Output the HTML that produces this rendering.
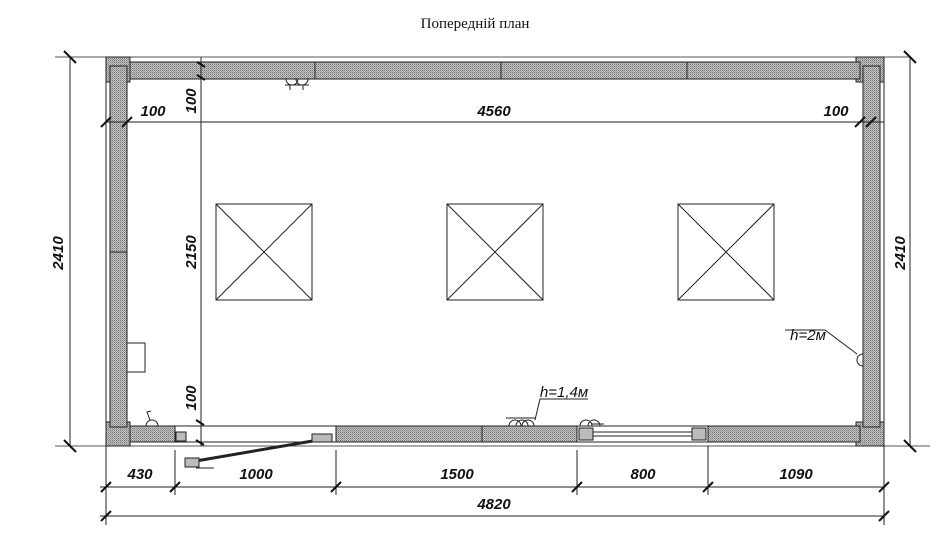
<!DOCTYPE html>
<html><head><meta charset="utf-8"><style>
html,body{margin:0;padding:0;background:#fff;}
svg{display:block;}
.t{font-family:"Liberation Sans",sans-serif;font-style:italic;font-weight:bold;font-size:15px;fill:#111;}
</style></head><body>
<svg width="950" height="547" viewBox="0 0 950 547" xmlns="http://www.w3.org/2000/svg">
<defs>
<pattern id="h" width="2" height="2" patternUnits="userSpaceOnUse">
<rect width="2" height="2" fill="#c4c4c4"/><rect width="1" height="1" fill="#777"/><rect x="1" y="1" width="1" height="1" fill="#999"/>
</pattern>
</defs>
<text x="475" y="28" font-family="Liberation Serif, serif" font-size="15" text-anchor="middle" fill="#111">Попередній план</text>
<g stroke="#222" stroke-width="1" fill="none">
<line x1="55" y1="57" x2="910" y2="57" stroke="#555"/>
<line x1="106" y1="57" x2="106" y2="446"/>
<line x1="884" y1="57" x2="884" y2="446"/>
<line x1="55" y1="446" x2="930" y2="446" stroke="#555"/>
<rect x="106" y="57" width="24" height="25" fill="url(#h)"/>
<rect x="856" y="57" width="28" height="25" fill="url(#h)"/>
<rect x="106" y="422" width="24" height="24" fill="url(#h)"/>
<rect x="856" y="422" width="28" height="24" fill="url(#h)"/>
<rect x="130" y="62" width="730" height="17" fill="url(#h)"/>
<line x1="315" y1="62" x2="315" y2="79"/><line x1="501" y1="62" x2="501" y2="79"/><line x1="687" y1="62" x2="687" y2="79"/>
<rect x="110" y="66" width="17" height="361" fill="url(#h)"/>
<line x1="110" y1="252" x2="127" y2="252"/>
<rect x="863" y="66" width="17" height="361" fill="url(#h)"/>
<rect x="130" y="426" width="45" height="16" fill="url(#h)"/>
<rect x="175" y="426" width="161" height="16" fill="#fff"/>
<rect x="336" y="426" width="241" height="16" fill="url(#h)"/>
<line x1="482" y1="426" x2="482" y2="442"/>
<rect x="577" y="426" width="131" height="16" fill="#fff"/>
<rect x="708" y="426" width="152" height="16" fill="url(#h)"/>
<line x1="585" y1="432" x2="705" y2="432"/><line x1="585" y1="436" x2="705" y2="436"/>
<rect x="579" y="428" width="14" height="12" fill="#bbb"/><rect x="692" y="428" width="14" height="12" fill="#bbb"/>
<rect x="176" y="432" width="10" height="9" fill="#bbb"/>
<line x1="190" y1="462" x2="330" y2="438" stroke-width="3"/>
<rect x="312" y="434" width="20" height="8" fill="#bbb"/>
<rect x="185" y="458" width="14" height="9" fill="#bbb"/>
<path d="M196 468 h18"/>
<line x1="106" y1="122" x2="884" y2="122"/>
<line x1="201" y1="57" x2="201" y2="446"/>
<rect x="216" y="204" width="96" height="96"/><line x1="216" y1="204" x2="312" y2="300"/><line x1="312" y1="204" x2="216" y2="300"/>
<rect x="447" y="204" width="96" height="96"/><line x1="447" y1="204" x2="543" y2="300"/><line x1="543" y1="204" x2="447" y2="300"/>
<rect x="678" y="204" width="96" height="96"/><line x1="678" y1="204" x2="774" y2="300"/><line x1="774" y1="204" x2="678" y2="300"/>
<rect x="127" y="343" width="18" height="29"/>
<path d="M286 79 a6 6 0 0 0 12 0 M296 79 a6 6 0 0 0 12 0 M290 85 v5 M303 85 v5 M285 85 h24"/>
<path d="M146 426 a6 6 0 0 1 12 0 M150 420 l-3 -8 l4 -1"/>
<path d="M509 426 a6 6 0 0 1 12 0 M516 426 a6 6 0 0 1 12 0 M522 426 a6 6 0 0 1 12 0 M506 418 h30 M535 420 l5 -21 h48"/>
<path d="M580 426 a6 6 0 0 1 12 0 M588 426 a6 6 0 0 1 12 0 M592 424 h12"/>
<path d="M863 366 a6 6 0 0 1 -6 -6 a6 6 0 0 1 6 -6 M857 354 l-32 -24 h-40"/>
<line x1="70" y1="57" x2="70" y2="446"/>
<line x1="910" y1="57" x2="910" y2="446"/>
<line x1="100" y1="487" x2="884" y2="487"/>
<line x1="100" y1="516" x2="884" y2="516"/>
<line x1="106" y1="446" x2="106" y2="525"/>
<line x1="175" y1="450" x2="175" y2="495"/>
<line x1="336" y1="450" x2="336" y2="495"/>
<line x1="577" y1="450" x2="577" y2="495"/>
<line x1="708" y1="446" x2="708" y2="495"/>
<line x1="884" y1="446" x2="884" y2="525"/>
</g>
<g stroke="#111" stroke-width="2">
<path d="M64 51 l12 12 M64 440 l12 12 M904 51 l12 12 M904 440 l12 12"/>
<path d="M101 492 l10 -10 M170 492 l10 -10 M331 492 l10 -10 M572 492 l10 -10 M703 492 l10 -10 M879 492 l10 -10"/>
<path d="M101 521 l10 -10 M879 521 l10 -10"/>
<path d="M101 127 l10 -10 M122 127 l10 -10 M855 127 l10 -10 M866 127 l10 -10"/>
<path d="M197 62 l8 5 M197 75 l8 5 M196 420 l8 5 M196 440 l8 5"/>
</g>
<text class="t" x="153" y="116" text-anchor="middle">100</text>
<text class="t" x="494" y="116" text-anchor="middle">4560</text>
<text class="t" x="836" y="116" text-anchor="middle">100</text>
<text class="t" x="140" y="479" text-anchor="middle">430</text>
<text class="t" x="256" y="479" text-anchor="middle">1000</text>
<text class="t" x="457" y="479" text-anchor="middle">1500</text>
<text class="t" x="643" y="479" text-anchor="middle">800</text>
<text class="t" x="796" y="479" text-anchor="middle">1090</text>
<text class="t" x="494" y="509" text-anchor="middle">4820</text>
<text class="t" x="808" y="340" text-anchor="middle" style="font-weight:normal">h=2м</text>
<text class="t" x="564" y="397" text-anchor="middle" style="font-weight:normal">h=1,4м</text>
<text class="t" transform="translate(63,253) rotate(-90)" text-anchor="middle">2410</text>
<text class="t" transform="translate(905,253) rotate(-90)" text-anchor="middle">2410</text>
<text class="t" transform="translate(196,101) rotate(-90)" text-anchor="middle">100</text>
<text class="t" transform="translate(196,252) rotate(-90)" text-anchor="middle">2150</text>
<text class="t" transform="translate(196,398) rotate(-90)" text-anchor="middle">100</text>
</svg>
</body></html>
